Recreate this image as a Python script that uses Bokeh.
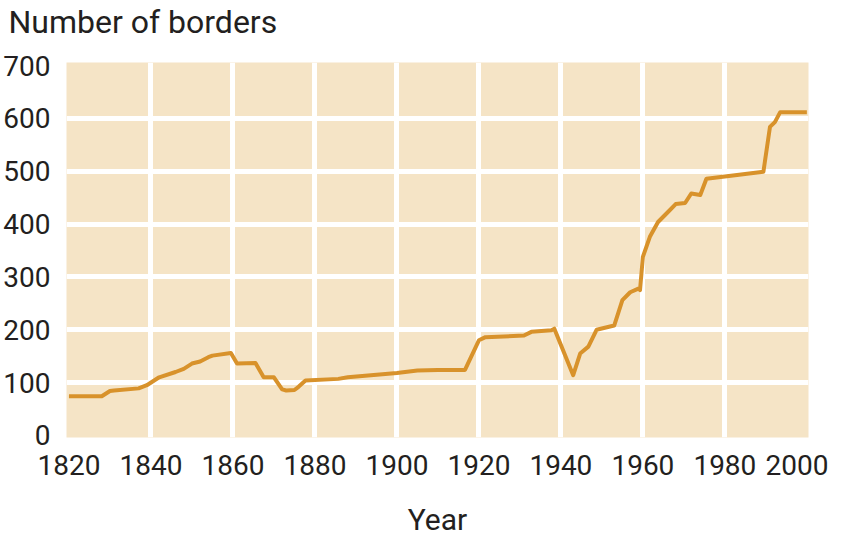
from bokeh.plotting import figure
from bokeh.models import FixedTicker, Range1d, Title
from bokeh.embed import file_html
from bokeh.resources import INLINE

# Data
years = [1820, 1828, 1830, 1831, 1837, 1839, 1842, 1846, 1848, 1850, 1852, 1854, 1855,
         1859.5, 1861, 1865.5, 1867.5, 1870, 1872, 1873, 1875, 1876, 1877.7, 1885.7,
         1888, 1900, 1905, 1910, 1916.6, 1920, 1921.6, 1931, 1932.8, 1937.7, 1938.4,
         1943, 1944.7, 1946.7, 1948.7, 1953, 1955, 1956.9, 1958.9, 1959.3, 1960,
         1961.7, 1963.7, 1966, 1968, 1970.3, 1971.8, 1974, 1975.5, 1980, 1989.4,
         1991, 1992.2, 1993.5, 2000]
borders = [74, 74, 84, 85, 89, 95, 110, 120, 126, 136, 140, 148, 151,
           156, 136, 137, 110, 110, 87, 85, 86, 92, 104, 107,
           110, 118, 123, 124, 124, 180, 186, 189, 196, 199, 202,
           114, 155, 168, 200, 208, 256, 271, 278, 275, 338,
           376, 404, 422, 438, 440, 458, 455, 486, 490, 499,
           584, 593, 612, 612]

x_ticks = [1820, 1840, 1860, 1880, 1900, 1920, 1940, 1960, 1980, 2000]
y_ticks = [0, 100, 200, 300, 400, 500, 600, 700]
x_grid = x_ticks[1:-1]
y_grid = y_ticks[1:-1]
title_text = "Number of borders"

FONT = "Roboto"
TEXT = "#231F20"

p = figure(frame_width=742, frame_height=375, output_backend="svg", toolbar_location=None,
           x_range=Range1d(1819.4, 2000.4), y_range=Range1d(-4, 706),
           min_border_left=60, min_border_right=20, min_border_top=54, min_border_bottom=5)

p.background_fill_color = "#F5E4C6"
p.border_fill_color = "white"
p.outline_line_color = None

# spacer between title and plot area (added first: closest to the frame)
p.add_layout(Title(text=" ", text_font=FONT, text_font_size="17px", standoff=0), "above")
p.add_layout(Title(text=title_text, text_font=FONT, text_font_size="32px",
                   text_font_style="normal", text_color=TEXT, align="left",
                   offset=-58, standoff=0), "above")

for ax in (p.xaxis[0], p.yaxis[0]):
    ax.axis_line_color = None
    ax.major_tick_line_color = None
    ax.minor_tick_line_color = None
    ax.major_label_text_font = FONT
    ax.major_label_text_color = TEXT
    ax.major_label_text_font_size = "28px"
p.yaxis.major_label_standoff = 10
p.xaxis.major_label_standoff = 11

p.xaxis.ticker = FixedTicker(ticks=x_ticks)
p.yaxis.ticker = FixedTicker(ticks=y_ticks)
p.xaxis.axis_label = "Year"
p.xaxis.axis_label_text_font = FONT
p.xaxis.axis_label_text_font_size = "30px"
p.xaxis.axis_label_text_font_style = "normal"
p.xaxis.axis_label_text_color = TEXT
p.xaxis.axis_label_standoff = 24

p.xgrid.ticker = FixedTicker(ticks=x_grid)
p.ygrid.ticker = FixedTicker(ticks=y_grid)
for g in (p.xgrid[0], p.ygrid[0]):
    g.grid_line_color = "white"
    g.grid_line_width = 5
    g.grid_line_alpha = 1.0

p.line(years, borders, line_color="#D8922B", line_width=4, line_join="round")

open("out.html", "w").write(file_html(p, INLINE))
